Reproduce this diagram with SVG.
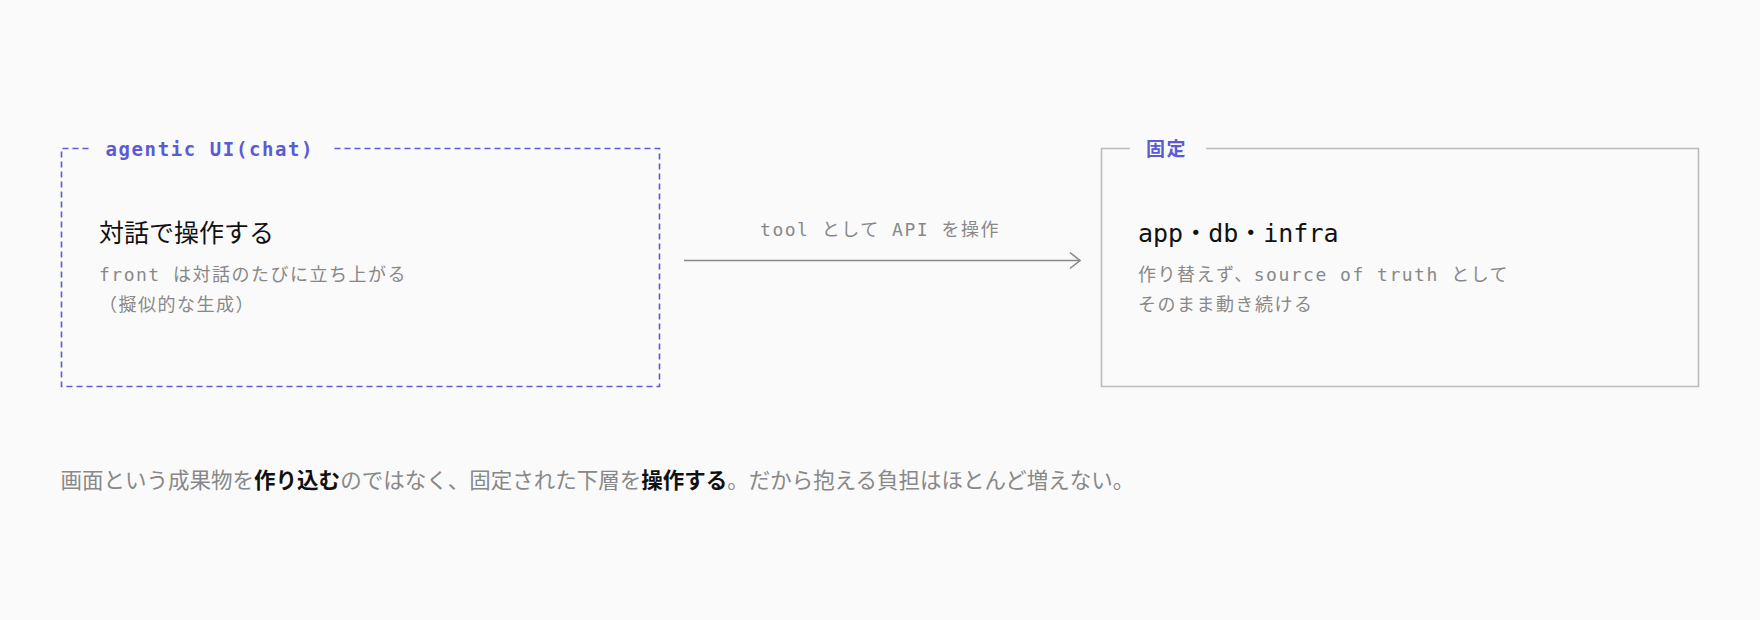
<svg xmlns="http://www.w3.org/2000/svg" width="1760" height="620" viewBox="0 0 1760 620">
<style>
.mono{font-family:"DejaVu Sans Mono","Noto Sans CJK JP",monospace}
.lab{font-size:19px;font-weight:bold;fill:#5b5bd6;letter-spacing:1.6px}
.title{font-size:25px;fill:#111}
.sub{font-size:18px;fill:#888;letter-spacing:1.5px}
.note{font-family:"Noto Sans CJK JP",sans-serif;font-size:21.5px;fill:#888}
.note .b{fill:#111;font-weight:bold}
</style>
<defs>
<marker id="arr" markerWidth="14" markerHeight="20" refX="12" refY="10" orient="auto" markerUnits="userSpaceOnUse">
<path d="M2,2 L12,10 L2,18" fill="none" stroke="#888" stroke-width="1.6"/>
</marker>
</defs>
<rect width="1760" height="620" fill="#fafafa"/>
<g id="node-agentic">
<path d="M88.5,148.5 H61.5 V386.5 H659.5 V148.5 H331" fill="none" stroke="#5b5bd6" stroke-width="1.6" stroke-dasharray="6,4"/>
<text class="mono lab" x="105.5" y="156">agentic UI(chat)</text>
<text class="mono title" x="99" y="242">対話で操作する</text>
<text class="mono sub" x="99" y="281">front は対話のたびに立ち上がる</text>
<text class="mono sub" x="99" y="311">（擬似的な生成）</text>
</g>
<g id="node-fixed">
<path d="M1130,148.5 H1101.5 V386.5 H1698.5 V148.5 H1206" fill="none" stroke="#bbb" stroke-width="1.6"/>
<text class="mono lab" x="1146" y="156">固定</text>
<text class="mono title" x="1138" y="242">app・db・infra</text>
<text class="mono sub" x="1138" y="281">作り替えず、source of truth として</text>
<text class="mono sub" x="1138" y="311">そのまま動き続ける</text>
</g>
<g id="connectors">
<line x1="684" y1="260.5" x2="1080" y2="260.5" stroke="#888" stroke-width="1.6" marker-end="url(#arr)"/>
<text class="mono sub" x="880" y="236" text-anchor="middle">tool として API を操作</text>
</g>
<text class="note" x="60.6" y="488">画面という成果物を<tspan class="b">作り込む</tspan>のではなく、固定された下層を<tspan class="b">操作する</tspan>。だから抱える負担はほとんど増えない。</text>
</svg>
